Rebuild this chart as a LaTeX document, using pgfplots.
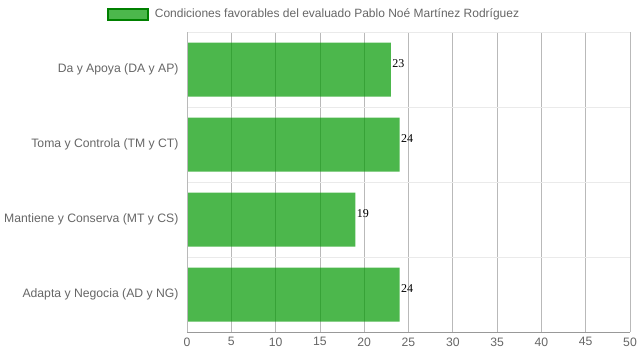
\documentclass[border=0pt]{standalone}
\usepackage{pgfplots}
\pgfplotsset{compat=1.18}
\usepackage{fontspec}
\setmainfont{Liberation Sans}
\newfontfamily\seriffont{Liberation Serif}
\definecolor{barg}{RGB}{0,153,0}
\definecolor{bordg}{RGB}{0,128,0}
\definecolor{txt}{RGB}{102,102,102}
\definecolor{vgrid}{RGB}{185,185,185}
\definecolor{hgrid}{RGB}{234,234,234}
\begin{document}
\begin{tikzpicture}
\path[use as bounding box] (0,0) rectangle (639pt,360pt);
\begin{axis}[
  at={(187pt,28pt)}, anchor=south west,
  scale only axis, width=443pt, height=300pt,
  /pgf/number format/assume math mode=true,
  xbar, bar width=0.72,
  xmin=0, xmax=50, xtick={0,5,...,50},
  ymin=-0.5, ymax=3.5, y dir=reverse,
  ytick={0,1,2,3},
  yticklabels={Da y Apoya (DA y AP),Toma y Controla (TM y CT),Mantiene y Conserva (MT y CS),Adapta y Negocia (AD y NG)},
  minor ytick={-0.5,0.5,1.5,2.5},
  xmajorgrids, yminorgrids,
  major grid style={vgrid, line width=0.8pt},
  minor grid style={hgrid, line width=1pt},
  major tick length=0pt, minor tick length=0pt,
  axis line style={draw=none},
  tick label style={font=\fontsize{12.2}{14}\selectfont, text=txt},
  yticklabel style={xshift=-5pt},
  xticklabel style={yshift=-2pt},
  nodes near coords={\color{black}\pgfmathprintnumber{\pgfplotspointmeta}},
  every node near coord/.append style={font=\seriffont\fontsize{12}{14}\selectfont, text=black, text opacity=1, anchor=west, xshift=-2pt, yshift=6pt},
  legend style={at={(0.2867,1.06)}, anchor=center, draw=none, fill=none,
    font=\fontsize{12}{14}\selectfont, text=txt, legend columns=1},
  legend image code/.code={\draw[fill=barg, fill opacity=0.7, draw=bordg, line width=2pt] (0pt,-5.5pt) rectangle (40pt,5.5pt);},
]
\addplot[fill=barg, fill opacity=0.7, draw=none] coordinates {(23,0) (24,1) (19,2) (24,3)};
\addlegendentry{\hspace{4pt}Condiciones favorables del evaluado Pablo Noé Martínez Rodríguez}
\draw[vgrid, line width=1pt] (axis cs:0,-0.5) -- (axis cs:0,3.5);
\draw[gray!80, line width=0.8pt] (axis cs:0,3.5) -- (axis cs:50,3.5);
\end{axis}
\end{tikzpicture}
\end{document}
